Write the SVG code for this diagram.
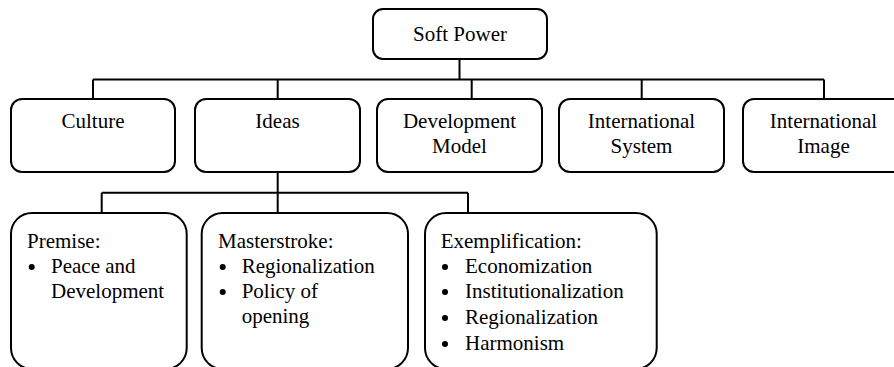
<svg xmlns="http://www.w3.org/2000/svg" width="894" height="367" viewBox="0 0 894 367">
<style>
.box{fill:#fff;stroke:#000;stroke-width:2}
.t{font-family:'Liberation Serif','DejaVu Serif',serif;font-size:21px;fill:#000}
.c{text-anchor:middle}
.ln{fill:none;stroke:#000;stroke-width:2}
</style>
<rect width="894" height="367" fill="#fff"/>
<g id="connectors">
<path class="ln" d="M459.5 59V79.5M93 79.5H824M93 79.5V99M277.7 79.5V99M471.7 79.5V99M641.7 79.5V99M824 79.5V99"/>
<path class="ln" d="M277.7 172V213M101.7 192.7H468M101.7 192.7V213M468 192.7V213"/>
</g>
<g id="soft-power">
<rect class="box" x="373" y="9" width="174" height="50" rx="10"/>
<text class="t c" x="460" y="41" font-family="Liberation Serif">Soft Power</text>
</g>
<g id="culture">
<rect class="box" x="11" y="99" width="164" height="73" rx="11"/>
<text class="t c" x="93" y="128">Culture</text>
</g>
<g id="ideas">
<rect class="box" x="195" y="99" width="165" height="73" rx="11"/>
<text class="t c" x="277.5" y="128">Ideas</text>
</g>
<g id="development-model">
<rect class="box" x="377" y="99" width="165" height="73" rx="11"/>
<text class="t c" x="459.5" y="128">Development</text>
<text class="t c" x="459.5" y="153">Model</text>
</g>
<g id="international-system">
<rect class="box" x="559" y="99" width="165" height="73" rx="11"/>
<text class="t c" x="641.5" y="128">International</text>
<text class="t c" x="641.5" y="153">System</text>
</g>
<g id="international-image">
<rect class="box" x="743" y="99" width="165" height="73" rx="11"/>
<text class="t c" x="823.5" y="128">International</text>
<text class="t c" x="823.5" y="153">Image</text>
</g>
<g id="premise">
<rect class="box" x="11" y="213" width="175.7" height="156" rx="21"/>
<text class="t" x="27" y="248">Premise:</text>
<circle cx="31.7" cy="267" r="3"/>
<text class="t" x="51" y="273">Peace and</text>
<text class="t" x="51" y="298">Development</text>
</g>
<g id="masterstroke">
<rect class="box" x="201.7" y="213" width="206.3" height="156" rx="21"/>
<text class="t" x="218" y="248">Masterstroke:</text>
<circle cx="222.7" cy="267" r="3"/>
<text class="t" x="241.7" y="273">Regionalization</text>
<circle cx="222.7" cy="292" r="3"/>
<text class="t" x="241.7" y="298">Policy of</text>
<text class="t" x="241.7" y="323">opening</text>
</g>
<g id="exemplification">
<rect class="box" x="425" y="213" width="231.7" height="156" rx="21"/>
<text class="t" x="440.7" y="248">Exemplification:</text>
<circle cx="445" cy="267" r="3"/>
<text class="t" x="465" y="273">Economization</text>
<circle cx="445" cy="292" r="3"/>
<text class="t" x="465" y="298">Institutionalization</text>
<circle cx="445" cy="318" r="3"/>
<text class="t" x="465" y="324">Regionalization</text>
<circle cx="445" cy="344" r="3"/>
<text class="t" x="465" y="350">Harmonism</text>
</g>
</svg>
